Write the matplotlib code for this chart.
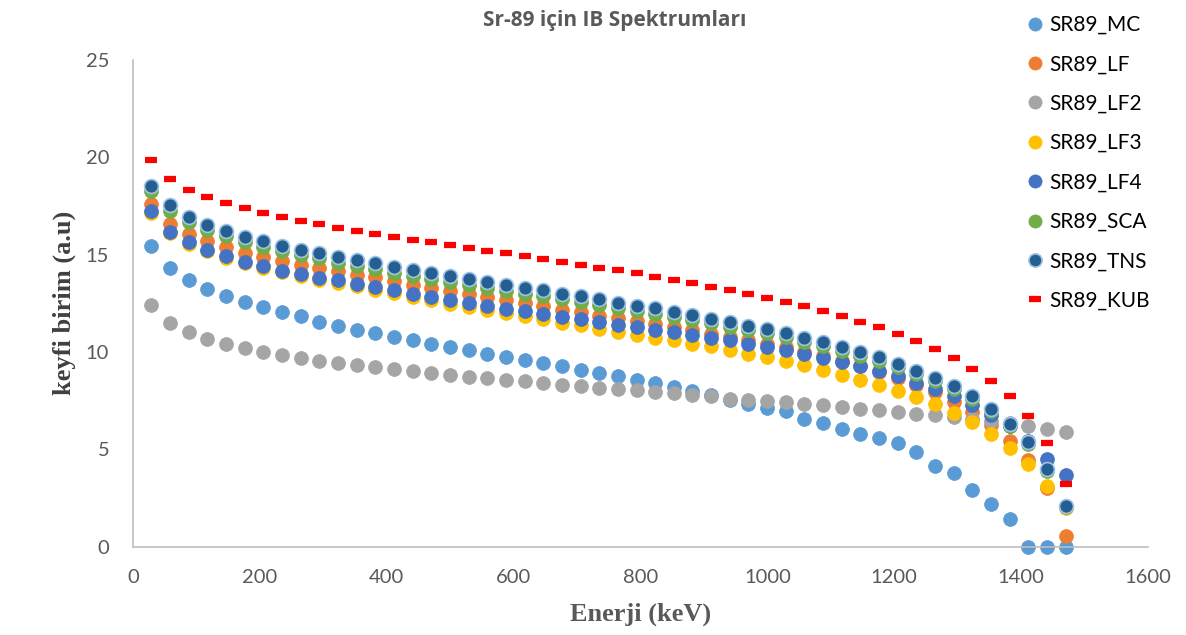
import matplotlib.pyplot as plt

energy = [29.4, 58.8, 88.2, 117.6, 147.0, 176.4, 205.8, 235.2, 264.6, 294.0,
          323.4, 352.8, 382.2, 411.6, 441.0, 470.4, 499.8, 529.2, 558.6, 588.0,
          617.4, 646.8, 676.2, 705.6, 735.0, 764.4, 793.8, 823.2, 852.6, 882.0,
          911.4, 940.8, 970.2, 999.6, 1029.0, 1058.4, 1087.8, 1117.2, 1146.6, 1176.0,
          1205.4, 1234.8, 1264.2, 1293.6, 1323.0, 1352.4, 1381.8, 1411.2, 1440.6, 1470.0]

sr89_mc = [15.45, 14.31, 13.67, 13.23, 12.85, 12.54, 12.29, 12.03, 11.82, 11.56,
           11.31, 11.10, 10.95, 10.78, 10.59, 10.41, 10.23, 10.08, 9.91, 9.73,
           9.56, 9.43, 9.26, 9.09, 8.92, 8.74, 8.54, 8.40, 8.21, 7.98,
           7.80, 7.55, 7.34, 7.12, 6.95, 6.57, 6.35, 6.04, 5.80, 5.58,
           5.32, 4.86, 4.16, 3.78, 2.89, 2.19, 1.42, 0.0, 0.0, 0.0]

sr89_lf = [17.61, 16.58, 16.07, 15.67, 15.38, 15.07, 14.87, 14.65, 14.46, 14.31,
           14.13, 13.96, 13.84, 13.62, 13.45, 13.28, 13.11, 12.97, 12.82, 12.68,
           12.50, 12.36, 12.17, 12.05, 11.85, 11.72, 11.58, 11.42, 11.26, 11.12,
           10.93, 10.78, 10.59, 10.40, 10.23, 10.01, 9.77, 9.52, 9.27, 8.98,
           8.66, 8.30, 7.92, 7.45, 6.90, 6.25, 5.41, 4.43, 3.01, 0.53]

sr89_lf2 = [12.42, 11.48, 11.02, 10.66, 10.42, 10.18, 9.99, 9.84, 9.69, 9.55,
            9.43, 9.33, 9.21, 9.11, 9.02, 8.92, 8.83, 8.73, 8.65, 8.57,
            8.49, 8.40, 8.32, 8.23, 8.16, 8.11, 8.02, 7.94, 7.87, 7.80,
            7.72, 7.60, 7.55, 7.46, 7.41, 7.34, 7.25, 7.19, 7.08, 7.00,
            6.91, 6.83, 6.75, 6.66, 6.57, 6.46, 6.33, 6.18, 6.04, 5.87]

sr89_lf3 = [17.15, 16.10, 15.55, 15.18, 14.83, 14.55, 14.30, 14.08, 13.90, 13.68,
            13.55, 13.37, 13.18, 13.02, 12.80, 12.64, 12.45, 12.30, 12.15, 12.02,
            11.84, 11.70, 11.50, 11.37, 11.16, 11.03, 10.88, 10.73, 10.59, 10.42,
            10.28, 10.08, 9.91, 9.74, 9.51, 9.31, 9.09, 8.83, 8.57, 8.32,
            8.01, 7.70, 7.34, 6.86, 6.38, 5.78, 5.07, 4.25, 3.13, 1.97]

sr89_lf4 = [17.21, 16.17, 15.62, 15.25, 14.90, 14.63, 14.39, 14.17, 14.00, 13.79,
            13.67, 13.50, 13.33, 13.18, 12.98, 12.84, 12.66, 12.51, 12.37, 12.22,
            12.08, 11.96, 11.79, 11.69, 11.51, 11.40, 11.28, 11.14, 11.00, 10.88,
            10.71, 10.59, 10.42, 10.25, 10.11, 9.91, 9.70, 9.48, 9.26, 9.00,
            8.74, 8.43, 8.10, 7.72, 7.30, 6.75, 6.20, 5.45, 4.50, 3.70]

sr89_sca = [18.25, 17.25, 16.65, 16.27, 15.93, 15.65, 15.41, 15.19, 14.99, 14.81,
            14.57, 14.39, 14.24, 14.04, 13.88, 13.74, 13.57, 13.42, 13.28, 13.15,
            12.99, 12.86, 12.70, 12.56, 12.42, 12.25, 12.10, 11.96, 11.79, 11.62,
            11.47, 11.29, 11.12, 10.95, 10.76, 10.53, 10.29, 10.05, 9.80, 9.54,
            9.22, 8.87, 8.50, 8.11, 7.60, 6.96, 6.20, 5.27, 3.91, 2.04]

sr89_tns = [18.53, 17.52, 16.92, 16.51, 16.19, 15.91, 15.67, 15.45, 15.25, 15.07,
            14.87, 14.70, 14.54, 14.34, 14.19, 14.05, 13.88, 13.73, 13.58, 13.45,
            13.28, 13.16, 12.99, 12.85, 12.71, 12.53, 12.37, 12.23, 12.05, 11.87,
            11.70, 11.51, 11.34, 11.17, 10.97, 10.74, 10.49, 10.25, 9.99, 9.72,
            9.39, 9.03, 8.64, 8.24, 7.72, 7.07, 6.31, 5.37, 4.00, 2.10]

sr89_kub = [19.87, 18.87, 18.33, 17.95, 17.64, 17.37, 17.15, 16.92, 16.73, 16.56,
            16.38, 16.22, 16.05, 15.91, 15.76, 15.62, 15.47, 15.33, 15.20, 15.06,
            14.90, 14.77, 14.63, 14.48, 14.32, 14.18, 14.03, 13.86, 13.71, 13.53,
            13.35, 13.18, 12.97, 12.77, 12.56, 12.34, 12.10, 11.82, 11.55, 11.26,
            10.93, 10.55, 10.14, 9.69, 9.14, 8.49, 7.74, 6.72, 5.32, 3.22]

series = [
    ("SR89_MC", sr89_mc, "#5B9BD5"),
    ("SR89_LF", sr89_lf, "#ED7D31"),
    ("SR89_LF2", sr89_lf2, "#A5A5A5"),
    ("SR89_LF3", sr89_lf3, "#FFC000"),
    ("SR89_LF4", sr89_lf4, "#4472C4"),
    ("SR89_SCA", sr89_sca, "#70AD47"),
]

fig = plt.figure(figsize=(11.86, 6.35), dpi=100)
ax = fig.add_axes([0.112, 0.139, 0.856, 0.767])

for name, vals, col in series:
    ax.plot(energy, vals, linestyle="none", marker="o", markersize=10,
            color=col, markeredgecolor=col, markeredgewidth=0.5, label=name, clip_on=False)
ax.plot(energy, sr89_tns, linestyle="none", marker="o", markersize=10,
        color="#255E91", markeredgecolor="#9DC3E6", markeredgewidth=1.2,
        label="SR89_TNS", clip_on=False)
ax.plot(energy, sr89_kub, linestyle="none", marker="_", markersize=9,
        markeredgewidth=4.5, color="#FF0000", label="SR89_KUB", clip_on=False)

ax.set_xlim(0, 1600)
ax.set_ylim(0, 25)
ax.set_xticks(range(0, 1601, 200))
ax.set_yticks(range(0, 26, 5))
ax.tick_params(length=0, labelsize=14.5, labelcolor="#595959")
ax.tick_params(axis="x", pad=16)
ax.tick_params(axis="y", pad=17)
for lab in ax.get_xticklabels() + ax.get_yticklabels():
    lab.set_fontfamily("Lato")
for s in ["top", "right"]:
    ax.spines[s].set_visible(False)
for s in ["left", "bottom"]:
    ax.spines[s].set_color("#BFBFBF")
    ax.spines[s].set_linewidth(1.2)

ax.set_xlabel("Enerji (keV)", fontsize=19, fontweight="bold", family="Liberation Serif",
              color="#595959", labelpad=12)
ax.set_ylabel("keyfi birim (a.u)", fontsize=19, fontweight="bold", family="Liberation Serif",
              color="#404040", labelpad=7)
fig.text(0.518, 0.967, "Sr-89 için IB Spektrumları", ha="center", va="center",
         fontsize=15, fontweight="bold", family="Open Sans", color="#595959")

leg = fig.legend(loc="upper left", bbox_to_anchor=(0.851, 1.006), frameon=False,
                 prop={"family": "Lato", "size": 15}, handlelength=0.7,
                 handletextpad=0.3, labelspacing=0.93, markerscale=0.95)

plt.savefig("out.png", dpi=100)
